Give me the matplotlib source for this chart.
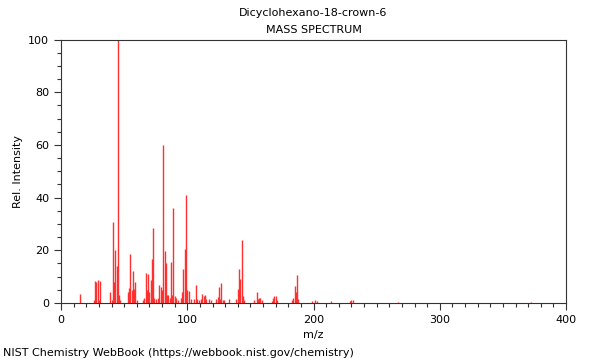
import numpy as np
import matplotlib
matplotlib.use("Agg")
import matplotlib.pyplot as plt
from matplotlib.ticker import MultipleLocator

# peaks (m/z, relative intensity %)
mz = [15, 26, 27, 28, 29, 30, 31, 39, 40, 41, 42, 43, 44, 45, 46, 47,
      53, 54, 55, 56, 57, 58, 59, 60, 65, 66, 67, 68, 69, 70, 71, 72, 73,
      74, 75, 77, 78, 79, 80, 81, 82, 83, 84, 85, 86, 87, 88, 89, 90, 91,
      93, 95, 96, 97, 98, 99, 100, 101, 103, 105, 107, 108, 109, 111, 112,
      113, 114, 115, 117, 119, 123, 124, 125, 126, 127, 128, 129, 133, 139,
      140, 141, 142, 143, 144, 145, 153, 155, 156, 157, 158, 159, 167, 168,
      169, 170, 171, 183, 184, 185, 186, 187, 188, 199, 201, 203, 214, 229,
      230, 231, 267, 372]
intensity = [3.5, 1.0, 8.3, 8.0, 8.7, 1.0, 8.5, 4.0, 1.0, 30.6, 8.0, 20.0, 14.0, 100.0, 3.0, 1.0,
             4.3, 5.7, 18.6, 5.0, 12.0, 5.4, 8.0, 1.0, 1.0, 2.0, 11.3, 5.0, 11.0, 4.0, 8.7, 16.7, 28.3,
             2.0, 1.5, 2.0, 6.8, 6.0, 5.0, 60.0, 19.7, 15.0, 3.0, 3.0, 2.0, 15.7, 3.0, 36.0, 2.5, 2.0,
             1.0, 2.0, 4.0, 13.0, 20.5, 41.0, 5.0, 4.5, 1.5, 1.5, 6.8, 1.5, 1.0, 1.5, 3.4,
             2.5, 3.0, 1.5, 1.5, 1.0, 1.5, 2.3, 6.0, 1.5, 7.5, 1.0, 1.0, 1.7, 1.5,
             5.3, 12.8, 9.0, 24.0, 2.5, 1.0, 1.0, 4.3, 1.5, 2.0, 2.0, 1.0, 0.8, 1.8,
             2.5, 2.7, 1.0, 1.0, 2.0, 6.5, 4.0, 10.6, 1.5, 0.8, 1.0, 0.6, 0.6, 0.6,
             1.0, 1.2, 0.3, 0.5]

title = "Dicyclohexano-18-crown-6"
subtitle = "MASS SPECTRUM"
footer = "NIST Chemistry WebBook (https://webbook.nist.gov/chemistry)"

fig = plt.figure(figsize=(6, 3.6), dpi=100)
ax = fig.add_axes([61 / 600, 1 - 303 / 360, 505 / 600, 263.5 / 360])

ax.vlines(mz, 0, intensity, color="#ff3030", linewidth=1.0)

ax.set_xlim(0, 400)
ax.set_ylim(0, 100)
ax.xaxis.set_major_locator(MultipleLocator(100))
ax.xaxis.set_minor_locator(MultipleLocator(10))
ax.yaxis.set_major_locator(MultipleLocator(20))
ax.yaxis.set_minor_locator(MultipleLocator(5))
ax.tick_params(which="major", length=5, width=0.8, labelsize=8, color="#333333")
ax.tick_params(which="minor", length=3, width=0.8, color="#333333")
for s in ax.spines.values():
    s.set_color("#333333")
    s.set_linewidth(0.8)

ax.set_xlabel("m/z", fontsize=8)
ax.set_ylabel("Rel. Intensity", fontsize=8)

fig.text(313.5 / 600, 1 - 13 / 360, title, ha="center", va="center", fontsize=8)
fig.text(313.5 / 600, 1 - 30 / 360, subtitle, ha="center", va="center", fontsize=8)
fig.text(3 / 600, 1 - 353 / 360, footer, ha="left", va="center", fontsize=8)

fig.savefig("out.png", dpi=100)
